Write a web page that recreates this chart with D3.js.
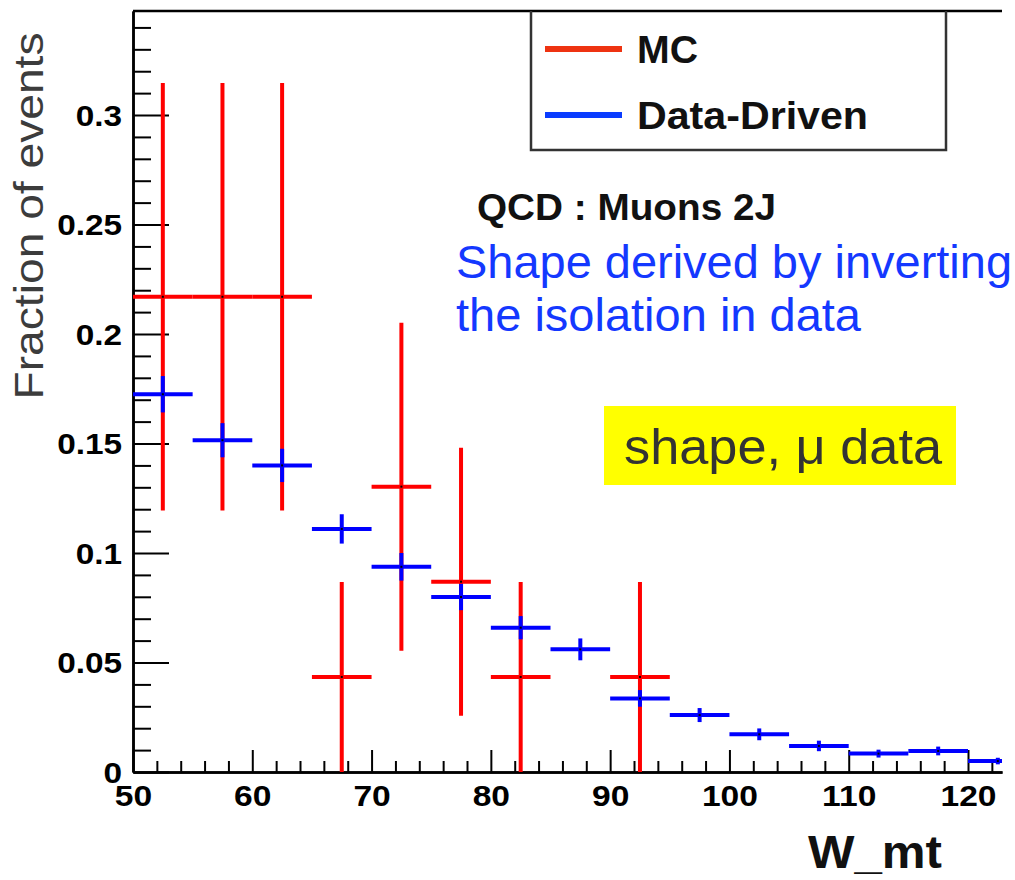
<!DOCTYPE html>
<html><head><meta charset="utf-8">
<script src="https://cdn.jsdelivr.net/npm/d3@7"></script>
<style>body{margin:0;background:#fff} svg{display:block}</style>
</head><body><svg id="c" width="1015" height="880"></svg>
<script>
// ---- data ----
const mcCenters = [52.5, 57.5, 62.5, 67.5, 72.5, 77.5, 82.5, 92.5];
const mcValues  = [0.217, 0.217, 0.217, 0.0434, 0.1303, 0.0869, 0.0434, 0.0434];
const mcErrors  = [0.0976, 0.0976, 0.0976, 0.0434, 0.0749, 0.0612, 0.0434, 0.0434];

const ddCenters = [52.5, 57.5, 62.5, 67.5, 72.5, 77.5, 82.5, 87.5, 92.5, 97.5, 102.5, 107.5, 112.5, 117.5, 122.5];
const ddValues  = [0.1725, 0.1515, 0.140, 0.111, 0.0937, 0.0799, 0.0659, 0.056, 0.0336, 0.0260, 0.0172, 0.0119, 0.0084, 0.0096, 0.0050];
const ddErrors  = [0.0083, 0.0078, 0.0076, 0.0067, 0.0063, 0.0060, 0.0053, 0.0050, 0.0038, 0.0032, 0.0027, 0.0024, 0.0018, 0.0020, 0.0015];
const binHalfWidth = 2.5;

const xMajorTicks = [50, 60, 70, 80, 90, 100, 110, 120];
const xMinorTicks = [52, 54, 56, 58, 62, 64, 66, 68, 72, 74, 76, 78, 82, 84, 86, 88, 92, 94, 96, 98, 102, 104, 106, 108, 112, 114, 116, 118, 122];
const yMajorTicks = [0, 0.05, 0.1, 0.15, 0.2, 0.25, 0.3];
const yTickLabels = ["0", "0.05", "0.1", "0.15", "0.2", "0.25", "0.3"];
const yMinorTicks = [0.01,0.02,0.03,0.04,0.06,0.07,0.08,0.09,0.11,0.12,0.13,0.14,0.16,0.17,0.18,0.19,0.21,0.22,0.23,0.24,0.26,0.27,0.28,0.29,0.31,0.32,0.33,0.34];
const legendLabels = ["MC", "Data-Driven"];
const legendColors = ["#ee3311", "#0a3cff"];

// ---- layout ----
const svg = d3.select("#c");
const L = 133, R = 1002, T = 11, B = 772;
const x = d3.scaleLinear().domain([50, 122.85]).range([L, R]);
const y = d3.scaleLinear().domain([0, 0.3475]).range([B, T]);
const FONT = "'Liberation Sans', Arial, Helvetica, sans-serif";

svg.append("defs").append("clipPath").attr("id", "plotclip")
  .append("rect").attr("x", L).attr("y", T).attr("width", R - L).attr("height", B - T);

// ---- axes ----
const xMinorAxis = d3.axisBottom(x).tickValues(xMinorTicks).tickSize(-11).tickSizeOuter(0).tickFormat("");
const xMajorAxis = d3.axisBottom(x).tickValues(xMajorTicks).tickSize(-22).tickSizeOuter(0).tickPadding(0).tickFormat(d => d);
const yMinorAxis = d3.axisLeft(y).tickValues(yMinorTicks).tickSize(-18).tickSizeOuter(0).tickFormat("");
const yMajorAxis = d3.axisLeft(y).tickValues(yMajorTicks).tickSize(-36).tickSizeOuter(0)
  .tickFormat((d, i) => yTickLabels[i]);

function styleAxis(g) {
  g.selectAll("path.domain").attr("stroke", "#000").attr("stroke-width", 2.5);
  g.selectAll(".tick line").attr("stroke", "#000").attr("stroke-width", 2);
}
const gxm = svg.append("g").attr("transform", `translate(0,${B})`).call(xMinorAxis); styleAxis(gxm);
const gxM = svg.append("g").attr("transform", `translate(0,${B})`).call(xMajorAxis); styleAxis(gxM);
gxM.selectAll(".tick text")
  .attr("y", 34).attr("dy", null)
  .attr("font-family", FONT).attr("font-weight", "bold").attr("font-size", 30)
  .attr("fill", "#000").attr("transform", "scale(1.12,1)");
const gym = svg.append("g").attr("transform", `translate(${L},0)`).call(yMinorAxis); styleAxis(gym);
const gyM = svg.append("g").attr("transform", `translate(${L},0)`).call(yMajorAxis); styleAxis(gyM);
gyM.selectAll(".tick text")
  .attr("x", -9.5).attr("dy", "0.36em")
  .attr("font-family", FONT).attr("font-weight", "bold").attr("font-size", 29)
  .attr("fill", "#000").attr("transform", "scale(1.15,1)");

// top frame
svg.append("line").attr("x1", L).attr("x2", R).attr("y1", T).attr("y2", T)
  .attr("stroke", "#000").attr("stroke-width", 2.5);

// ---- data marks ----
const plot = svg.append("g").attr("clip-path", "url(#plotclip)");
function drawSeries(centers, values, errors, color) {
  const g = plot.append("g");
  g.selectAll("line.h").data(centers).join("line").attr("class", "h")
    .attr("x1", c => x(c - binHalfWidth)).attr("x2", c => x(c + binHalfWidth))
    .attr("y1", (c, i) => y(values[i])).attr("y2", (c, i) => y(values[i]))
    .attr("stroke", color).attr("stroke-width", 4);
  g.selectAll("line.v").data(centers).join("line").attr("class", "v")
    .attr("x1", c => x(c)).attr("x2", c => x(c))
    .attr("y1", (c, i) => y(Math.max(0, values[i] - errors[i])))
    .attr("y2", (c, i) => y(values[i] + errors[i]))
    .attr("stroke", color).attr("stroke-width", 4);
  g.selectAll("rect.m").data(centers).join("rect").attr("class", "m")
    .attr("x", c => x(c) - 1).attr("y", (c, i) => y(values[i]) - 1)
    .attr("width", 2).attr("height", 2).attr("fill", "#000");
}
drawSeries(mcCenters, mcValues, mcErrors, "#ff0000");
drawSeries(ddCenters, ddValues, ddErrors, "#0000ff");

// ---- legend ----
const lg = svg.append("g");
lg.append("path").attr("d", "M531,11 V150 H946 V11")
  .attr("fill", "none").attr("stroke", "#333").attr("stroke-width", 2.5);
const legendY = [49, 115];
legendLabels.forEach((lab, i) => {
  lg.append("line").attr("x1", 545).attr("x2", 622).attr("y1", legendY[i]).attr("y2", legendY[i])
    .attr("stroke", legendColors[i]).attr("stroke-width", 6);
  lg.append("text").attr("x", 637).attr("y", legendY[i] + 14)
    .attr("font-family", FONT).attr("font-weight", "bold").attr("font-size", 39)
    .attr("fill", "#111").text(lab)
    .attr("textLength", i === 0 ? 61 : 231).attr("lengthAdjust", "spacingAndGlyphs");
});

// ---- annotations ----
svg.append("text").attr("x", 477).attr("y", 220)
  .attr("font-family", FONT).attr("font-weight", "bold").attr("font-size", 36)
  .attr("fill", "#111").text("QCD : Muons 2J")
  .attr("textLength", 299).attr("lengthAdjust", "spacingAndGlyphs");
svg.append("text").attr("x", 456).attr("y", 278)
  .attr("font-family", FONT).attr("font-size", 46).attr("fill", "#1438ff")
  .text("Shape derived by inverting")
  .attr("textLength", 556).attr("lengthAdjust", "spacingAndGlyphs");
svg.append("text").attr("x", 456).attr("y", 331)
  .attr("font-family", FONT).attr("font-size", 46).attr("fill", "#1438ff")
  .text("the isolation in data")
  .attr("textLength", 405).attr("lengthAdjust", "spacingAndGlyphs");

svg.append("rect").attr("x", 604).attr("y", 406).attr("width", 352).attr("height", 79)
  .attr("fill", "#ffff00");
svg.append("text").attr("x", 624).attr("y", 464)
  .attr("font-family", FONT).attr("font-size", 50).attr("fill", "#333")
  .text("shape, μ data")
  .attr("textLength", 318).attr("lengthAdjust", "spacingAndGlyphs");

// ---- axis titles ----
svg.append("text").attr("transform", "translate(43,216) rotate(-90)")
  .attr("text-anchor", "middle")
  .attr("font-family", FONT).attr("font-size", 41).attr("fill", "#3c3c3c")
  .text("Fraction of events")
  .attr("textLength", 367).attr("lengthAdjust", "spacingAndGlyphs");
svg.append("text").attr("x", 942).attr("y", 868).attr("text-anchor", "end")
  .attr("font-family", FONT).attr("font-weight", "bold").attr("font-size", 46)
  .attr("fill", "#111").text("W_mt")
  .attr("textLength", 134).attr("lengthAdjust", "spacingAndGlyphs");
</script></body></html>
